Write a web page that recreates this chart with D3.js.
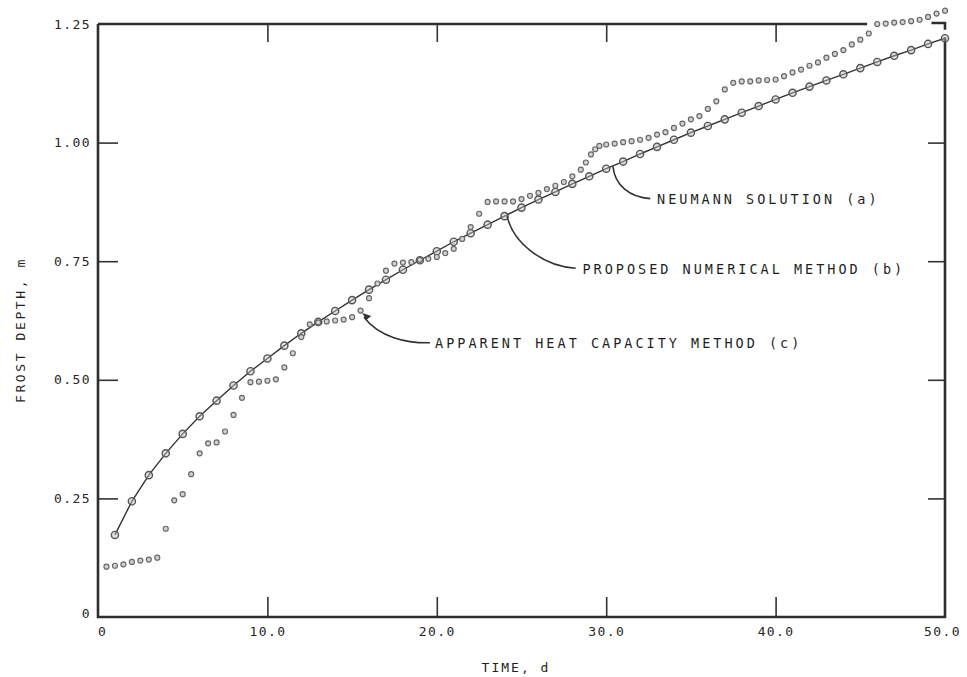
<!DOCTYPE html>
<html>
<head>
    <meta charset="utf-8">
    <title>Frost depth</title>
    <script src="https://cdn.jsdelivr.net/npm/d3@7/dist/d3.min.js"></script>
    <style>
        body { margin: 0; background: #fff; }
        .lbl { font-family: "DejaVu Sans Mono", monospace; fill: #1f1f1f; }
        .tick text { font-family: "DejaVu Sans Mono", monospace; font-size: 13px; letter-spacing: 1.4px; fill: #262626; }
        .tick line { stroke: #333; stroke-width: 1.6; }
    </style>
</head>
<body>
<svg width="967" height="677" id="mainsvg"></svg>
<script>
    // Neumann solution (a) / proposed method (b): circles every day on the curve
    const curveTime = [1, 2, 3, 4, 5, 6, 7, 8, 9, 10, 11, 12, 13, 14, 15, 16, 17, 18, 19, 20,
        21, 22, 23, 24, 25, 26, 27, 28, 29, 30, 31, 32, 33, 34, 35, 36, 37, 38, 39, 40,
        41, 42, 43, 44, 45, 46, 47, 48, 49, 50];
    const curveDepth = [0.173, 0.244, 0.299, 0.345, 0.386, 0.423, 0.456, 0.488, 0.518, 0.545,
        0.572, 0.598, 0.622, 0.645, 0.668, 0.690, 0.711, 0.732, 0.752, 0.771,
        0.791, 0.809, 0.827, 0.845, 0.863, 0.880, 0.896, 0.913, 0.929, 0.945,
        0.960, 0.976, 0.991, 1.006, 1.021, 1.035, 1.049, 1.063, 1.077, 1.091,
        1.105, 1.118, 1.131, 1.144, 1.157, 1.170, 1.183, 1.195, 1.208, 1.220];

    // apparent heat capacity method (c)
    const heatTime = [0.5, 1, 1.5, 2, 2.5, 3, 3.5, 4, 4.5, 5, 5.5, 6, 6.5, 7, 7.5, 8, 8.5, 9, 9.5, 10,
        10.5, 11, 11.5, 12, 12.5, 13, 13.5, 14, 14.5, 15, 15.5, 16, 16.5, 17, 17.5, 18, 18.5, 19, 19.5, 20,
        20.5, 21, 21.5, 22, 22.5, 23, 23.5, 24, 24.5, 25, 25.5, 26, 26.5, 27, 27.5, 28, 28.5,
        28.8, 29.1, 29.35, 29.6, 30, 30.5, 31, 31.5, 32, 32.5, 33, 33.5, 34, 34.5, 35, 35.5, 36, 36.5,
        37, 37.5, 38, 38.5, 39, 39.5, 40, 40.5, 41, 41.5, 42, 42.5, 43, 43.5, 44, 44.5, 45, 45.5,
        46, 46.5, 47, 47.5, 48, 48.5, 49, 49.5, 50];
    const heatDepth = [0.106, 0.108, 0.111, 0.116, 0.119, 0.121, 0.125, 0.186, 0.246, 0.259,
        0.301, 0.345, 0.366, 0.368, 0.391, 0.426, 0.462, 0.495, 0.496, 0.498,
        0.501, 0.526, 0.556, 0.590, 0.617, 0.621, 0.623, 0.625, 0.627, 0.632,
        0.646, 0.672, 0.703, 0.730, 0.745, 0.747, 0.748, 0.753, 0.755, 0.759,
        0.767, 0.776, 0.797, 0.822, 0.850, 0.875, 0.876, 0.876, 0.876, 0.881,
        0.888, 0.894, 0.902, 0.909, 0.917, 0.929, 0.943,
        0.958, 0.975, 0.986, 0.993, 0.996, 0.998, 1.001, 1.003, 1.006, 1.010, 1.017, 1.022,
        1.031, 1.040, 1.049, 1.056, 1.071, 1.087, 1.112, 1.126, 1.129, 1.129, 1.131, 1.132,
        1.133, 1.140, 1.148, 1.154, 1.162, 1.169, 1.179, 1.187, 1.195, 1.207, 1.217, 1.230,
        1.250, 1.251, 1.253, 1.254, 1.256, 1.259, 1.265, 1.272, 1.278];

    const xTicks = [0, 10, 20, 30, 40, 50];
    const xTickLabels = ['0', '10.0', '20.0', '30.0', '40.0', '50.0'];
    const yTicks = [0, 0.25, 0.5, 0.75, 1.0, 1.25];
    const yTickLabels = ['0', '0.25', '0.50', '0.75', '1.00', '1.25'];

    const svg = d3.select('svg');
    const x = d3.scaleLinear().domain([0, 50]).range([98, 945]);
    const y = d3.scaleLinear().domain([0, 1.25]).range([617, 24]);

    // axes: ticks point inward, lines at the corners removed
    const gl = svg.append('g').attr('transform', `translate(${x(0)},0)`)
        .call(d3.axisLeft(y).tickValues(yTicks).tickSize(-20).tickPadding(7)
            .tickFormat((d, i) => yTickLabels[i]));
    const gr = svg.append('g').attr('transform', `translate(${x(50)},0)`)
        .call(d3.axisRight(y).tickValues(yTicks.slice(1, -1)).tickSize(-17).tickFormat(''));
    const gb = svg.append('g').attr('transform', `translate(0,${y(0)})`)
        .call(d3.axisBottom(x).tickValues(xTicks).tickSize(-20).tickPadding(10)
            .tickFormat((d, i) => xTickLabels[i]));
    const gt = svg.append('g').attr('transform', `translate(0,${y(1.25)})`)
        .call(d3.axisTop(x).tickValues(xTicks.slice(1, -1)).tickSize(-18).tickFormat(''));
    [gl, gr, gb, gt].forEach(g => g.select('.domain').remove());
    gl.selectAll('.tick').filter(d => d === 0 || d === 1.25).select('line').remove();
    gb.selectAll('.tick').filter(d => d === 0 || d === 50).select('line').remove();
    gl.selectAll('.tick').filter(d => d === 0).select('text').attr('dy', '0.05em');
    gb.selectAll('.tick').filter(d => d === 0).select('text').attr('x', 4);
    gb.selectAll('.tick').filter(d => d === 50).select('text').attr('x', -3);

    // frame (top edge broken where the dots run over it)
    const frame = svg.append('g').attr('fill', 'none').attr('stroke', '#2e2e2e').attr('stroke-width', 2.6);
    frame.append('path').attr('d', `M${x(0)},${y(1.25)} V${y(0)} H${x(50)} V${y(1.222)}`);
    frame.append('path').attr('d', `M${x(0)},${y(1.25)} H${x(45.4)}`);
    frame.append('path').attr('d', `M${x(49.2)},${y(1.252)} H${x(50)} V${y(1.238)}`);

    // Neumann line
    const line = d3.line().x(d => x(d[0])).y(d => y(d[1]));
    svg.append('path')
        .datum(curveTime.map((t, i) => [t, curveDepth[i]]))
        .attr('d', line)
        .attr('fill', 'none')
        .attr('stroke', '#333')
        .attr('stroke-width', 1.4);

    // proposed method circles
    svg.selectAll('.prop').data(curveTime.map((t, i) => [t, curveDepth[i]])).join('circle')
        .attr('class', 'prop')
        .attr('cx', d => x(d[0]))
        .attr('cy', d => y(d[1]))
        .attr('r', 3.6)
        .attr('fill', 'rgba(190,190,190,0.45)')
        .attr('stroke', '#555')
        .attr('stroke-width', 1.4);

    // apparent heat capacity dots
    svg.selectAll('.heat').data(heatTime.map((t, i) => [t, heatDepth[i]])).join('circle')
        .attr('class', 'heat')
        .attr('cx', d => x(d[0]))
        .attr('cy', d => y(d[1]))
        .attr('r', 2.5)
        .attr('fill', '#d2d2d2')
        .attr('stroke', '#686868')
        .attr('stroke-width', 1.2);

    // leaders and notes
    const notes = svg.append('g');
    const lead = notes.append('g').attr('fill', 'none').attr('stroke', '#333').attr('stroke-width', 1.6);
    lead.append('path').attr('d',
        `M${x(30.4)},${y(0.95)} C${x(30.5)},${y(0.91)} ${x(31.4)},${y(0.885)} ${x(32.6)},${y(0.882)}`);
    lead.append('path').attr('d',
        `M${x(24.15)},${y(0.845)} C${x(24.5)},${y(0.79)} ${x(26.2)},${y(0.74)} ${x(28.2)},${y(0.735)}`);
    lead.append('path').attr('d',
        `M${x(15.7)},${y(0.632)} C${x(16.6)},${y(0.59)} ${x(18.2)},${y(0.577)} ${x(19.6)},${y(0.578)}`);
    // arrow head towards the marked dot
    notes.append('path')
        .attr('d', `M${x(15.6)},${y(0.641)} l9,3 l-5,4 z`)
        .attr('fill', '#333');

    notes.append('text').attr('class', 'lbl').attr('x', x(33.0)).attr('y', y(0.88))
        .attr('dy', '0.36em').attr('font-size', 13.5).attr('letter-spacing', 3)
        .text('NEUMANN SOLUTION (a)');
    notes.append('text').attr('class', 'lbl').attr('x', x(28.6)).attr('y', y(0.733))
        .attr('dy', '0.36em').attr('font-size', 13.5).attr('letter-spacing', 3)
        .text('PROPOSED NUMERICAL METHOD (b)');
    notes.append('text').attr('class', 'lbl').attr('x', x(19.9)).attr('y', y(0.577))
        .attr('dy', '0.36em').attr('font-size', 13.5).attr('letter-spacing', 3)
        .text('APPARENT HEAT CAPACITY METHOD (c)');

    // axis titles
    svg.append('text').attr('class', 'lbl')
        .attr('x', 516).attr('y', 672)
        .attr('text-anchor', 'middle').attr('font-size', 13).attr('letter-spacing', 2)
        .text('TIME, d');
    svg.append('text').attr('class', 'lbl')
        .attr('transform', 'translate(20,330) rotate(-90)').attr('dy', '0.35em')
        .attr('text-anchor', 'middle').attr('font-size', 13).attr('letter-spacing', 2.6)
        .text('FROST DEPTH, m');
</script>
</body>
</html>
